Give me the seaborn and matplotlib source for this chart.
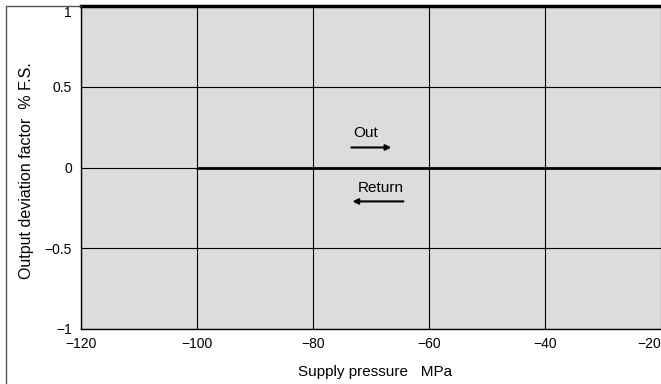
import matplotlib
matplotlib.use("Agg")
import matplotlib.pyplot as plt
from matplotlib.lines import Line2D
import seaborn as sns
import pandas as pd

# Output deviation vs supply pressure
pressure = [-100, -80, -60, -40, -20]
deviation = [0.0, 0.0, 0.0, 0.0, 0.0]

x_ticks = [-120, -100, -80, -60, -40, -20]
y_ticks = [-1, -0.5, 0, 0.5, 1]
y_tick_labels = ["\u22121", "\u22120.5", "0", "0.5", "1"]
x_tick_labels = ["\u2212120", "\u2212100", "\u221280", "\u221260", "\u221240", "\u221220"]

sns.set_style("white")
plt.rcParams["font.family"] = ["Liberation Sans", "DejaVu Sans"]
plt.rcParams["text.color"] = "black"
plt.rcParams["axes.labelcolor"] = "black"

fig = plt.figure(figsize=(6.61, 3.84), dpi=100)
ax = fig.add_axes([81 / 661, 1 - 329 / 384, 1 - 81 / 661, (329 - 6) / 384])
ax.set_facecolor("#dcdcdc")

df = pd.DataFrame({"pressure": pressure, "deviation": deviation})
sns.lineplot(data=df, x="pressure", y="deviation", ax=ax, color="black", linewidth=2)

ax.set_xlim(-120, -20)
ax.set_ylim(-1, 1)
ax.set_xticks(x_ticks)
ax.set_xticklabels(x_tick_labels)
ax.set_yticks(y_ticks)
ax.set_yticklabels(y_tick_labels)
ax.tick_params(axis="both", length=0, labelsize=10, colors="black")
ax.tick_params(axis="y", pad=6.5)
ax.tick_params(axis="x", pad=6)
ax.get_yticklabels()[-1].set_va("top")
ax.get_xticklabels()[-1].set_ha("right")

ax.grid(True, color="black", linewidth=0.8)
ax.set_axisbelow(True)

ax.spines["right"].set_visible(False)
ax.spines["top"].set_linewidth(2.5)
ax.spines["top"].set_color("black")
for side in ["left", "bottom"]:
    ax.spines[side].set_linewidth(1)
    ax.spines[side].set_color("black")

ax.set_xlabel("Supply pressure   MPa", fontsize=11)
ax.set_ylabel("Output deviation factor  % F.S.", fontsize=11.5)
ax.xaxis.set_label_coords(375 / 661, 1 - 365 / 384, transform=fig.transFigure)
ax.yaxis.set_label_coords(34 / 661, 1 - 171 / 384, transform=fig.transFigure)

# Direction annotations
ax.text(-71, 0.215, "Out", ha="center", va="center", fontsize=11)
ax.annotate("", xy=(-66.5, 0.124), xytext=(-73.4, 0.124),
            arrowprops=dict(arrowstyle="-|>", color="black", lw=1.5,
                            mutation_scale=8, shrinkA=0, shrinkB=0))
ax.text(-68.4, -0.13, "Return", ha="center", va="center", fontsize=11)
ax.annotate("", xy=(-73.2, -0.21), xytext=(-64.4, -0.21),
            arrowprops=dict(arrowstyle="-|>", color="black", lw=1.5,
                            mutation_scale=8, shrinkA=0, shrinkB=0))

# Outer frame of the figure
fx = 5.5 / 661
fy = 1 - 5.5 / 384
fig.add_artist(Line2D([fx, fx], [0, fy], transform=fig.transFigure, color="#555555", lw=1))
fig.add_artist(Line2D([fx, 81 / 661], [fy, fy], transform=fig.transFigure, color="#555555", lw=1))

fig.savefig("out.png", dpi=100)
